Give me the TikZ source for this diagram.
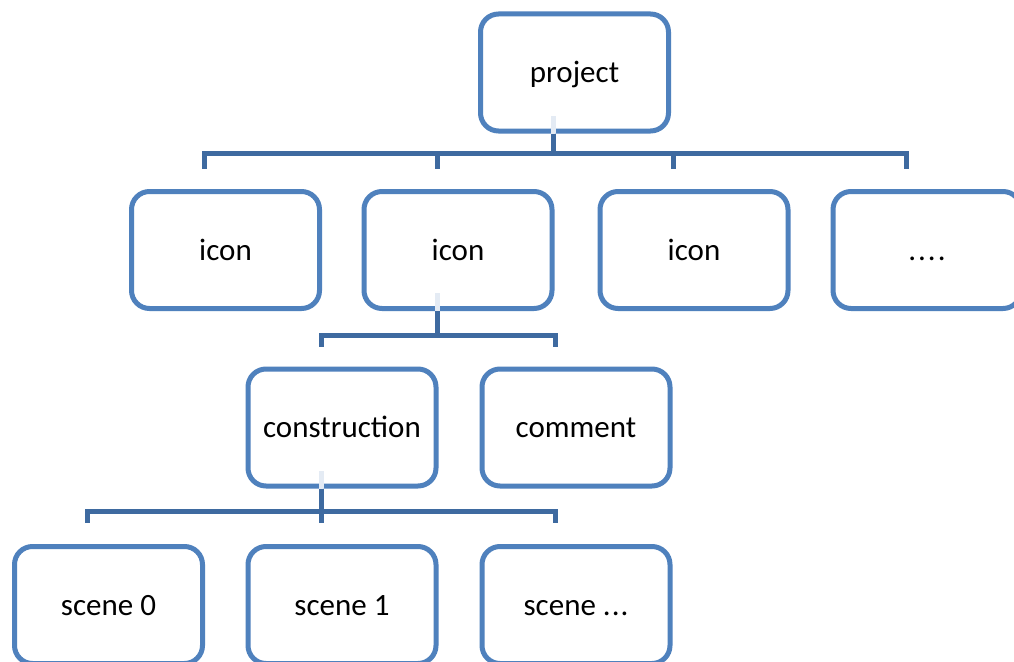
\documentclass[tikz,border=0pt]{standalone}
\usepackage{fontspec}
\setmainfont{Carlito}
\definecolor{boxblue}{RGB}{79,129,189}
\definecolor{connblue}{RGB}{62,106,160}
\definecolor{faintblue}{RGB}{228,235,244}
\tikzset{
  orgbox/.style={draw=boxblue, line width=5pt, fill=white, rounded corners=18pt,
    minimum width=188pt, minimum height=117pt, inner sep=0pt,
    text height=24pt, text depth=4pt,
    font=\fontsize{31}{37}\selectfont, text=black},
  conn/.style={draw=connblue, line width=5pt},
  faint/.style={draw=faintblue, line width=5pt}
}
\begin{document}
\begin{tikzpicture}[x=1pt,y=-1pt]
\useasboundingbox (0,0) rectangle (1014,661);
\clip (0,0) rectangle (1014,661);
\fill[white] (0,0) rectangle (1014,661);
% nodes
\node[orgbox] (project) at (574.5,72.5) {project};
\node[orgbox] (i1) at (225.5,250) {icon};
\node[orgbox] (i2) at (458,250) {icon};
\node[orgbox] (i3) at (694,250) {icon};
\node[orgbox] (i4) at (927,250) {.\kern2pt.\kern2pt.\kern2pt.};
\node[orgbox] (cons) at (342,427.5) {construction};
\node[orgbox] (comm) at (576,427.5) {comment};
\node[orgbox] (s0) at (108.5,605) {scene 0};
\node[orgbox] (s1) at (342,605) {scene 1};
\node[orgbox] (s2) at (576,605) {scene .\kern1pt.\kern1pt.};
% faint stem parts inside boxes
\draw[faint] ([xshift=-21pt]project.south) -- ++(0,-18);
\draw[faint] ([xshift=-21pt]i2.south) -- ++(0,-18);
\draw[faint] ([xshift=-21pt]cons.south) -- ++(0,-18);
% connectors
\foreach \c in {i1,i2,i3,i4}
  \draw[conn] ([xshift=-21pt]project.south) -- ++(0,19.5) -| ([xshift=-21pt,yshift=20pt]\c.north);
\foreach \c in {cons,comm}
  \draw[conn] ([xshift=-21pt]i2.south) -- ++(0,24) -| ([xshift=-21pt,yshift=20pt]\c.north);
\foreach \c in {s0,s1,s2}
  \draw[conn] ([xshift=-21pt]cons.south) -- ++(0,23) -| ([xshift=-21pt,yshift=21pt]\c.north);
\end{tikzpicture}
\end{document}
